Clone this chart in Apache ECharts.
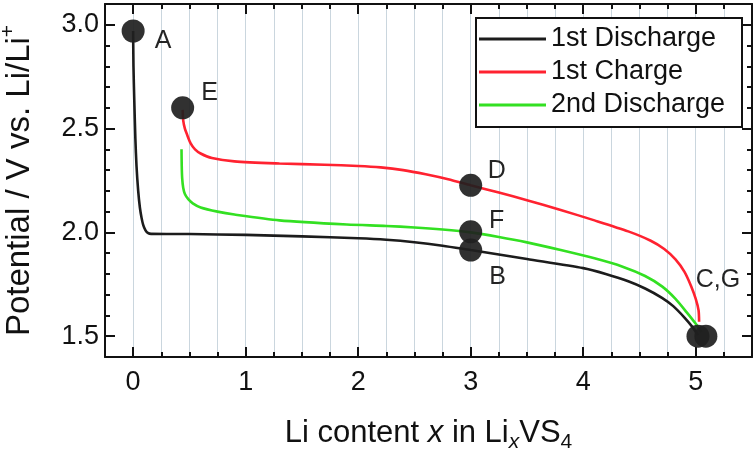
<!DOCTYPE html>
<html>
<head>
<meta charset="utf-8">
<script src="https://cdn.jsdelivr.net/npm/echarts@6/dist/echarts.min.js"></script>
<style>
html,body{margin:0;padding:0;background:#fff;}
#chart{width:756px;height:454px;}
</style>
</head>
<body>
<div id="chart"></div>
<script>
// ---- data ----
const seriesNames = ['1st Discharge', '1st Charge', '2nd Discharge'];
const discharge1 = [[0,2.97],[0.003,2.8],[0.01,2.64],[0.02,2.45],[0.03,2.32],[0.045,2.2],[0.06,2.12],[0.075,2.07],[0.09,2.035],[0.11,2.01],[0.13,1.998],[0.16,1.993],[0.5,1.992],[1.0,1.988],[1.5,1.981],[2.0,1.972],[2.25,1.965],[2.5,1.953],[2.75,1.936],[3.0,1.915],[3.25,1.894],[3.5,1.872],[4.0,1.828],[4.2,1.8],[4.4,1.765],[4.55,1.73],[4.7,1.685],[4.8,1.645],[4.9,1.59],[4.97,1.545],[5.02,1.505]];
const charge1 = [[0.44,2.59],[0.445,2.54],[0.46,2.5],[0.48,2.47],[0.51,2.43],[0.55,2.4],[0.6,2.38],[0.7,2.358],[0.9,2.342],[1.3,2.332],[1.7,2.326],[2.0,2.32],[2.2,2.313],[2.4,2.3],[2.6,2.28],[2.8,2.256],[3.0,2.227],[3.25,2.192],[3.5,2.155],[3.8,2.108],[4.1,2.058],[4.4,2.005],[4.6,1.96],[4.72,1.92],[4.82,1.87],[4.9,1.81],[4.96,1.74],[5.0,1.68],[5.025,1.625],[5.03,1.57]];
const discharge2 = [[0.43,2.40],[0.432,2.32],[0.436,2.26],[0.445,2.215],[0.46,2.185],[0.49,2.16],[0.53,2.14],[0.6,2.12],[0.75,2.1],[0.9,2.086],[1.3,2.058],[1.9,2.038],[2.25,2.031],[2.5,2.024],[2.75,2.014],[3.0,2.0],[3.25,1.978],[3.5,1.952],[3.8,1.915],[4.1,1.875],[4.35,1.835],[4.55,1.79],[4.7,1.74],[4.82,1.68],[4.92,1.615],[5.0,1.56],[5.05,1.52]];
const markerNames = ['A','E','D','F','B','C,G',''];
const markerX = [0, 0.44, 3.0, 3.0, 3.0, 5.02, 5.09];
const markerY = [2.97, 2.60, 2.227, 2.003, 1.915, 1.50, 1.50];
const xMajorTicks = [0,1,2,3,4,5];
const yMajorTicks = [1.5,2.0,2.5,3.0];
// ---- style (not data) ----
const labelOffsets = [[30,10],[27,-15],[26,-14],[26,-11],[27,27],[20,-56],[0,0]];
const colors = ['#1c1c1c','#ff2230','#33e022'];
const FONT = 'Liberation Sans, Arial, Helvetica, sans-serif';
const AX = '#111';

const chart = echarts.init(document.getElementById('chart'), null, {renderer:'canvas'});

const XMIN = -0.25, XMAX = 5.5, YMIN = 1.4, YMAX = 3.1;
function xAxisBase(pos){
  return {type:'value', position:pos, min:XMIN, max:XMAX, interval:0.25, gridIndex:0,
    axisLine:{show:true, onZero:false, lineStyle:{color:AX, width:2}},
    axisTick:{show:true, inside:true, length:5, lineStyle:{color:AX, width:2}},
    axisLabel:{show:false}, splitLine:{show:false}};
}
function yAxisBase(pos){
  return {type:'value', position:pos, min:YMIN, max:YMAX, interval:0.1, gridIndex:0,
    axisLine:{show:true, onZero:false, lineStyle:{color:AX, width:2}},
    axisTick:{show:true, inside:true, length:5, lineStyle:{color:AX, width:2}},
    axisLabel:{show:false}, splitLine:{show:false}};
}
const xBottom = xAxisBase('bottom');
xBottom.splitLine = {show:true, lineStyle:{color:'#cad6de', width:1}};
xBottom.axisLabel = {show:true, customValues:xMajorTicks, fontSize:27, fontFamily:FONT, color:AX, margin:12,
  formatter:v=>String(Math.round(v))};
const xBottomMajor = xAxisBase('bottom');
xBottomMajor.axisLine = {show:false, onZero:false};
xBottomMajor.axisTick = {show:true, inside:true, length:10, customValues:xMajorTicks, lineStyle:{color:AX, width:2}};
xBottomMajor.name = '{n|Li content }{i|x}{n| in Li}{sub|x}{n|VS}{sub2|4}';
xBottomMajor.nameLocation = 'middle';
xBottomMajor.nameGap = 57;
xBottomMajor.nameTextStyle = {fontFamily:FONT, color:AX, fontSize:31, rich:{
  n:{fontSize:31, fontFamily:FONT, color:AX},
  i:{fontSize:31, fontFamily:FONT, color:AX, fontStyle:'italic'},
  sub:{fontSize:21, fontFamily:FONT, color:AX, fontStyle:'italic', padding:[18,0,0,0]},
  sub2:{fontSize:21, fontFamily:FONT, color:AX, padding:[18,0,0,0]}
}};
const xTop = xAxisBase('top');
const xTopMajor = xAxisBase('top');
xTopMajor.axisLine = {show:false, onZero:false};
xTopMajor.axisTick = {show:true, inside:true, length:10, customValues:xMajorTicks, lineStyle:{color:AX, width:2}};

const yLeft = yAxisBase('left');
yLeft.axisLabel = {show:true, customValues:yMajorTicks, fontSize:27, fontFamily:FONT, color:AX, margin:6,
  formatter:v=>v.toFixed(1)};
const yLeftMajor = yAxisBase('left');
yLeftMajor.axisLine = {show:false, onZero:false};
yLeftMajor.axisTick = {show:true, inside:true, length:10, customValues:yMajorTicks, lineStyle:{color:AX, width:2}};
yLeftMajor.name = '{n|Potential / V vs. Li/Li}{sup|+}';
yLeftMajor.nameLocation = 'middle';
yLeftMajor.nameGap = 64;
yLeftMajor.nameRotate = 90;
yLeftMajor.nameTextStyle = {fontFamily:FONT, color:AX, fontSize:33, rich:{
  n:{fontSize:33, fontFamily:FONT, color:AX},
  sup:{fontSize:21, fontFamily:FONT, color:AX, padding:[0,0,22,0]}
}};
const yRight = yAxisBase('right');
const yRightMajor = yAxisBase('right');
yRightMajor.axisLine = {show:false, onZero:false};
yRightMajor.axisTick = {show:true, inside:true, length:10, customValues:yMajorTicks, lineStyle:{color:AX, width:2}};

const lineSeries = [discharge1, charge1, discharge2].map((d,i)=>({
  name: seriesNames[i], type:'line', data:d, xAxisIndex:0, yAxisIndex:0,
  symbol:'none', smooth:0.25, color:colors[i],
  lineStyle:{color:colors[i], width:2.6}, z:3, animation:false
}));

const markerData = markerX.map((x,i)=>({
  value:[x, markerY[i]],
  label:{show: markerNames[i] !== '', formatter: markerNames[i], offset: labelOffsets[i]}
}));

const option = {
  animation:false,
  backgroundColor:'#fff',
  grid:{left:105, right:4, top:4, bottom:97, containLabel:false, outerBoundsMode:'none'},
  xAxis:[xBottom, xBottomMajor, xTop, xTopMajor],
  yAxis:[yLeft, yLeftMajor, yRight, yRightMajor],
  legend:{
    data:seriesNames, orient:'vertical', left:479, top:25, padding:0,
    icon:'rect', itemWidth:67, itemHeight:3, itemGap:5,
    textStyle:{fontSize:27, fontFamily:FONT, color:AX, lineHeight:28},
    z:10
  },
  graphic:[{type:'rect', z:5, zlevel:0, shape:{x:476, y:18, width:266, height:109},
    style:{fill:'#fff', stroke:'#111', lineWidth:2}}],
  series:[...lineSeries, {
    name:'markers', type:'scatter', data:markerData, xAxisIndex:0, yAxisIndex:0,
    symbol:'circle', symbolSize:23, z:5,
    itemStyle:{color:'#1f1f1f', opacity:0.92},
    label:{show:true, position:'inside', align:'center', verticalAlign:'middle',
      fontSize:25, fontFamily:FONT, color:AX},
    emphasis:{disabled:true}
  }]
};
chart.setOption(option);
</script>
</body>
</html>
